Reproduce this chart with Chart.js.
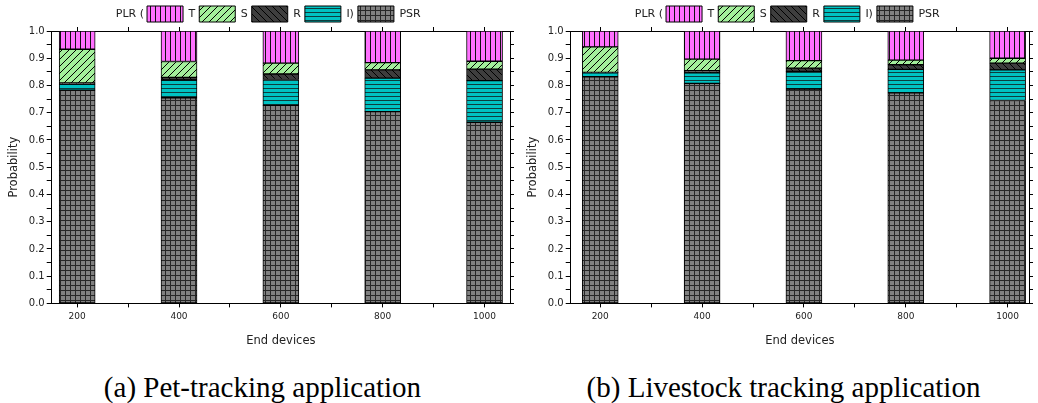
<!DOCTYPE html>
<html>
<head>
<meta charset="utf-8">
<script src="https://cdn.jsdelivr.net/npm/chart.js@4.4.1/dist/chart.umd.min.js"></script>
<style>
  html, body { margin: 0; padding: 0; background: #fff; }
  #wrap { position: relative; width: 1038px; height: 403px; overflow: hidden; }
  canvas { position: absolute; top: 0; }
  .cap {
    position: absolute; top: 371px; width: 519px; text-align: center;
    font-family: "Liberation Serif", "Times New Roman", serif; font-size: 29px; color: #000;
    white-space: nowrap; line-height: normal;
  }
</style>
</head>
<body>
<div id="wrap">
  <canvas id="pet" width="519" height="352" style="left:0"></canvas>
  <canvas id="live" width="519" height="352" style="left:519px"></canvas>
  <div class="cap" style="left:3px">(a) Pet-tracking application</div>
  <div class="cap" style="left:524px">(b) Livestock tracking application</div>
</div>
<script>
// End-device counts on the x axis
const endDevices = [200, 400, 600, 800, 1000];
const xTickValues = [200, 300, 400, 500, 600, 700, 800, 900, 1000];
const xLabelValues = [200, 400, 600, 800, 1000];
const yTickValues = [0, 0.05, 0.1, 0.15, 0.2, 0.25, 0.3, 0.35, 0.4, 0.45, 0.5,
                     0.55, 0.6, 0.65, 0.7, 0.75, 0.8, 0.85, 0.9, 0.95, 1.0];

// Legend text for each component (stack order bottom to top: PSR, I, R, S, T)
const seriesLabels = { PSR: 'PSR', I: 'I)', R: 'R', S: 'S', T: 'T' };

// (a) Pet-tracking application
const petPSR = [0.783, 0.755, 0.727, 0.704, 0.665];
const petI   = [0.022, 0.065, 0.095, 0.123, 0.153];
const petR   = [0.004, 0.010, 0.020, 0.030, 0.042];
const petS   = [0.124, 0.058, 0.040, 0.027, 0.029];
const petT   = [0.067, 0.112, 0.118, 0.116, 0.111];

// (b) Livestock tracking application
const livePSR = [0.832, 0.808, 0.787, 0.773, 0.745];
const liveI   = [0.014, 0.038, 0.065, 0.086, 0.112];
const liveR   = [0.002, 0.008, 0.012, 0.017, 0.025];
const liveS   = [0.094, 0.043, 0.027, 0.017, 0.018];
const liveT   = [0.058, 0.103, 0.109, 0.107, 0.100];

Chart.defaults.font.family = '"DejaVu Sans", Verdana, sans-serif';
Chart.defaults.color = '#222';

// Hatch fills
function hatch(kind) {
  const c = document.createElement('canvas');
  const g = c.getContext('2d');
  let s;
  if (kind === 'T') {
    s = 5; c.width = s; c.height = s;
    g.fillStyle = '#ff70ff'; g.fillRect(0, 0, s, s);
    g.fillStyle = '#111'; g.fillRect(0, 0, 1, s);
  } else if (kind === 'I') {
    s = 4; c.width = s; c.height = s;
    g.fillStyle = '#00c2c2'; g.fillRect(0, 0, s, s);
    g.fillStyle = '#0d3d3d'; g.fillRect(0, 0, s, 1);
  } else if (kind === 'PSR') {
    s = 5; c.width = s; c.height = s;
    g.fillStyle = '#808080'; g.fillRect(0, 0, s, s);
    g.fillStyle = '#262626'; g.fillRect(0, 0, s, 1); g.fillRect(0, 0, 1, s);
  } else {
    s = 7; c.width = s; c.height = s;
    g.fillStyle = kind === 'S' ? '#a3ef9b' : '#3e3e3e';
    g.fillRect(0, 0, s, s);
    g.strokeStyle = '#000'; g.lineWidth = 1;
    g.beginPath();
    if (kind === 'S') {
      g.moveTo(0, s); g.lineTo(s, 0);
      g.moveTo(-1, 1); g.lineTo(1, -1);
      g.moveTo(s - 1, s + 1); g.lineTo(s + 1, s - 1);
    } else {
      g.moveTo(0, 0); g.lineTo(s, s);
      g.moveTo(-1, s - 1); g.lineTo(1, s + 1);
      g.moveTo(s - 1, -1); g.lineTo(s + 1, 1);
    }
    g.stroke();
  }
  return g.createPattern(c, 'repeat');
}
const fills = { T: hatch('T'), S: hatch('S'), R: hatch('R'), I: hatch('I'), PSR: hatch('PSR') };

// Centre the legend row over the plot area, drop it to its row and put the "PLR (" prefix before it
const LEGEND_DROP = 5;
const LEGEND_SHIFT = 3;
const legendPrefix = {
  id: 'legendPrefix',
  afterLayout(chart) {
    const lg = chart.legend, ca = chart.chartArea;
    const dx = (ca.left + ca.right) / 2 - (lg.left + lg.right) / 2 + LEGEND_SHIFT;
    lg.left += dx; lg.right += dx;
    lg.top += LEGEND_DROP; lg.bottom += LEGEND_DROP;
  },
  afterDraw(chart) {
    const lg = chart.legend;
    const pad = lg.options.labels.padding;
    const x0 = (lg.left + pad + lg.right - lg.lineWidths[0]) / 2;
    const itemH = Math.max(lg.options.labels.boxHeight, 11);
    const y = lg.top + pad + itemH / 2;
    const ctx = chart.ctx;
    ctx.save();
    ctx.font = '11px "DejaVu Sans", Verdana, sans-serif';
    ctx.fillStyle = '#222';
    ctx.textAlign = 'right';
    ctx.textBaseline = 'middle';
    ctx.fillText('PLR (', x0 - 3, y);
    ctx.restore();
  }
};

function axisTicks(values) {
  return (scale) => { scale.ticks = values.map(v => ({ value: v })); };
}

function drawPanel(id, series, xMin, xMax) {
  const order = ['PSR', 'I', 'R', 'S', 'T'];
  const datasets = order.map(k => ({
    label: seriesLabels[k],
    data: endDevices.map((x, j) => ({ x: x, y: series[k][j] })),
    backgroundColor: fills[k],
    borderColor: '#000',
    borderWidth: 1,
    borderSkipped: false,
    barThickness: 36
  }));
  const frameGrid = { drawOnChartArea: false, drawTicks: true, tickLength: 4, tickColor: '#000', tickWidth: 1, offset: false };
  return new Chart(document.getElementById(id), {
    type: 'bar',
    data: { datasets },
    plugins: [legendPrefix],
    options: {
      responsive: false,
      animation: false,
      events: [],
      layout: { padding: { left: 7, right: 5, top: -3, bottom: 2 } },
      plugins: {
        legend: {
          position: 'top',
          reverse: true,
          labels: { boxWidth: 36, boxHeight: 16, padding: 4, color: '#222', font: { size: 11 } }
        },
        tooltip: { enabled: false }
      },
      scales: {
        x: {
          type: 'linear', position: 'bottom', stacked: true, offset: false,
          min: xMin, max: xMax,
          afterBuildTicks: axisTicks(xTickValues),
          ticks: {
            autoSkip: false, maxRotation: 0, padding: 4, color: '#222', font: { size: 9 },
            callback: v => xLabelValues.includes(v) ? String(v) : ''
          },
          grid: frameGrid,
          border: { color: '#000', width: 1 },
          title: { display: true, text: 'End devices', color: '#222', font: { size: 11.5 }, padding: { top: 8, bottom: 2 } }
        },
        xTop: {
          type: 'linear', position: 'top', offset: false,
          min: xMin, max: xMax,
          afterBuildTicks: axisTicks(xTickValues),
          ticks: { display: false },
          grid: frameGrid,
          border: { color: '#000', width: 1 }
        },
        y: {
          type: 'linear', position: 'left', stacked: true,
          min: 0, max: 1,
          afterBuildTicks: axisTicks(yTickValues),
          ticks: {
            autoSkip: false, padding: 2, color: '#222', font: { size: 10 },
            callback: v => (Math.round(v * 100) % 10 === 0) ? v.toFixed(1) : ''
          },
          grid: Object.assign({}, frameGrid, { tickLength: 5 }),
          border: { color: '#000', width: 1 },
          title: { display: true, text: 'Probability', color: '#222', font: { size: 11.5 }, padding: { top: 0, bottom: 6 } }
        },
        yRight: {
          type: 'linear', position: 'right',
          min: 0, max: 1,
          afterBuildTicks: axisTicks(yTickValues),
          ticks: { display: false },
          grid: frameGrid,
          border: { color: '#000', width: 1 }
        }
      }
    }
  });
}

drawPanel('pet', { PSR: petPSR, I: petI, R: petR, S: petS, T: petT }, 150, 1050);
drawPanel('live', { PSR: livePSR, I: liveI, R: liveR, S: liveS, T: liveT }, 142, 1042);
</script>
</body>
</html>
